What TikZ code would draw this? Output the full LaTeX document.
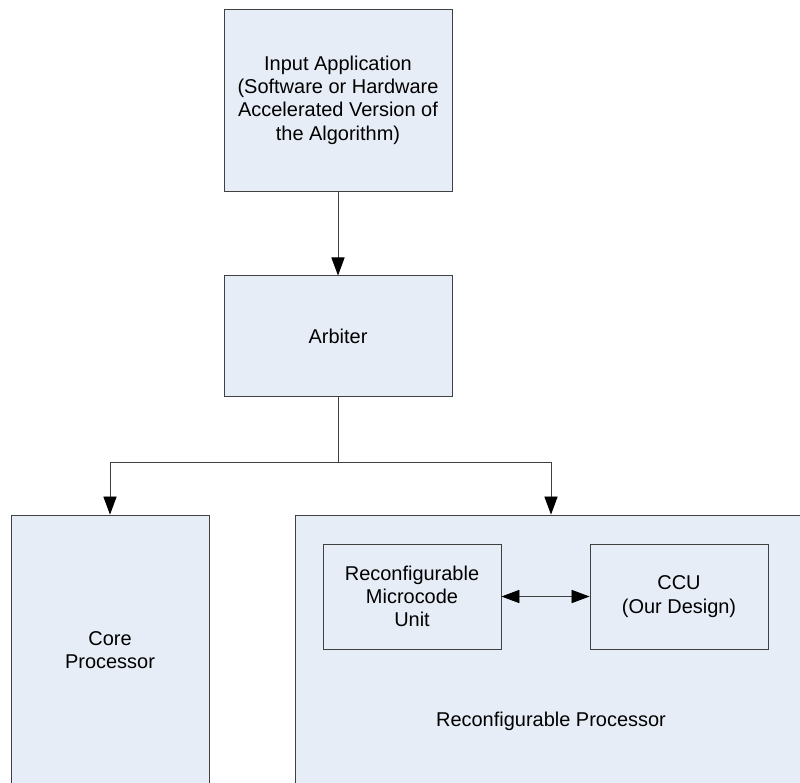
\documentclass[tikz,border=0pt]{standalone}
\usepackage{fontspec}
\setmainfont{Liberation Sans}
\usetikzlibrary{positioning,arrows.meta}
\usepackage{xcolor}
\definecolor{boxfill}{HTML}{E7EDF7}

\begin{document}
\begin{tikzpicture}[
    x=0.025cm, y=-0.025cm,
    node distance=21mm,
    box/.style={
        rectangle, draw=black!75, line width=0.6pt, align=center,
        inner sep=0pt, font=\fontsize{14.2}{16.6}\selectfont,
        fill=boxfill
    },
    arrow/.style={-{Triangle[length=4.5mm,width=3.3mm,color=black]}, line width=0.6pt, black!75},
    twoway/.style={arrow, {Triangle[length=4.5mm,width=3.3mm,color=black]}-{Triangle[length=4.5mm,width=3.3mm,color=black]}}
]
\clip (0,0) rectangle (800,782);
\node[box, minimum width=57mm, minimum height=45.5mm] (input) at (338,100)
    {Input Application\\(Software or Hardware\\Accelerated Version of\\the Algorithm)};
\node[box, minimum width=57mm, minimum height=30mm, below=of input] (arbiter) {Arbiter};
\node[box, minimum width=49.5mm, minimum height=67.5mm] (core) at (110,650) {Core\\Processor};
\node[box, minimum width=128mm, minimum height=67.5mm] (reconf) at (551,650) {};
\node[box, minimum width=44.5mm, minimum height=26.25mm] (micro) at (412,596.5)
    {Reconfigurable\\Microcode\\Unit};
\node[box, minimum width=44.5mm, minimum height=26.25mm] (ccu) at (679,596.5)
    {CCU\\(Our Design)};
\node[font=\fontsize{14.2}{16.6}\selectfont] (reconflabel) at (551,721) {Reconfigurable Processor};
\coordinate (split) at (338,462);
\draw[arrow] (input) -- (arbiter);
\draw[arrow] (arbiter.south) -- (split) -| (core.north);
\draw[arrow] (split) -| (reconf.north);
\draw[twoway] (micro) -- (ccu);
\end{tikzpicture}
\end{document}
